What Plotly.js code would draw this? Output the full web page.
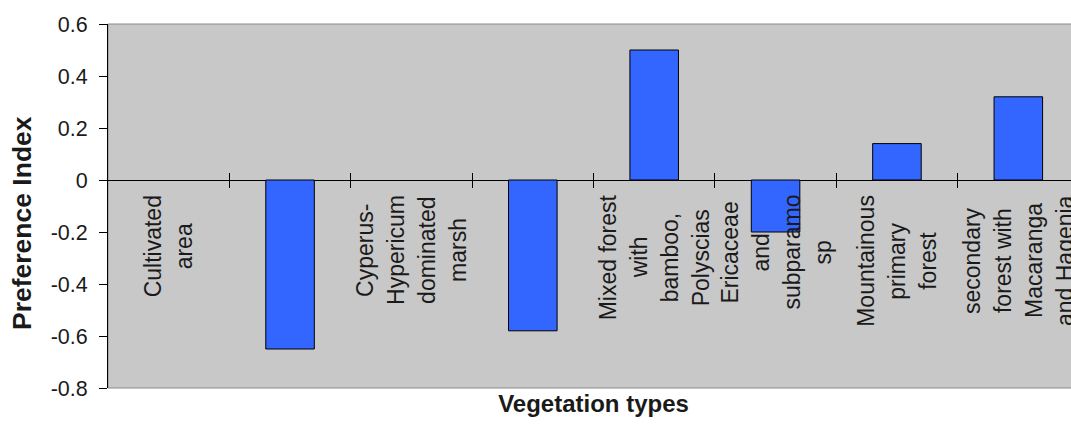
<!DOCTYPE html>
<html><head><meta charset="utf-8">
<script src="https://cdn.plot.ly/plotly-3.0.1.min.js"></script>
<style>html,body{margin:0;padding:0;overflow:hidden;background:#fff}#chart{width:1085px;height:441px}</style>
</head><body><div id="chart"></div>
<script>
// ---- data ----
const categories = [
  "Cultivated\narea",
  "",
  "Cyperus-\nHypericum\ndominated\nmarsh",
  "",
  "Mixed forest\nwith\nbamboo,\nPolyscias",
  "Ericaceae\nand\nsubparamo\nsp",
  "Mountainous\nprimary\nforest",
  "secondary\nforest with\nMacaranga\nand Hagenia"
];
const preferenceIndex = [null, -0.65, null, -0.58, 0.5, -0.2, 0.14, 0.32];
const yTickValues = [-0.8, -0.6, -0.4, -0.2, 0, 0.2, 0.4, 0.6];
const yTickLabels = ["-0.8", "-0.6", "-0.4", "-0.2", "0", "0.2", "0.4", "0.6"];
const xTitle = "Vegetation types";
const yTitle = "Preference Index";

// ---- layout helpers ----
const FONT = '"Liberation Sans", Arial, sans-serif';
const LABEL_SIZE = 23, LINE_SP = 31, GAP = 15;
const idx = categories.map((_, i) => i);
const boundaries = idx.slice(1).map(i => i - 0.5);
const xRange = [-0.5, categories.length - 0.5];
const yRange = [yTickValues[0], yTickValues[yTickValues.length - 1]];
const zeroFrac = (0 - yRange[0]) / (yRange[1] - yRange[0]);

const ctx = document.createElement('canvas').getContext('2d');
ctx.font = LABEL_SIZE + 'px "Liberation Sans", Arial, sans-serif';

const annotations = [];
categories.forEach((label, i) => {
  const lines = label.split('\n').filter(s => s.length);
  if (!lines.length) return;
  const maxW = Math.max(...lines.map(l => ctx.measureText(l).width));
  lines.forEach((line, j) => {
    annotations.push({
      xref: 'x', yref: 'y', x: i, y: 0, text: line, showarrow: false,
      textangle: -90, xanchor: 'center', yanchor: 'middle',
      xshift: (j - (lines.length - 1) / 2) * LINE_SP,
      yshift: -(GAP + maxW / 2),
      font: {family: FONT, size: LABEL_SIZE, color: '#1a1a1a'}
    });
  });
});
// y-axis title (placed like the reference, slightly below the axis middle)
annotations.push({
  xref: 'paper', yref: 'paper', x: 0, y: 0.5, xshift: -86, yshift: -17,
  xanchor: 'center', yanchor: 'middle', textangle: -90, showarrow: false,
  text: yTitle, font: {family: FONT, size: 26.5, weight: 'bold', color: '#1a1a1a'}
});

const bars = {
  type: 'bar', x: idx, y: preferenceIndex, xaxis: 'x', yaxis: 'y',
  marker: {color: '#3366FF', line: {color: '#000', width: 1}},
  hoverinfo: 'skip'
};
// empty helpers so the tick-mark axes crossing the zero line get drawn
const tickHelper = ax => ({type: 'scatter', mode: 'markers', x: [], y: [], xaxis: ax, yaxis: 'y', hoverinfo: 'skip'});

const tickAxis = side => ({
  overlaying: 'x', anchor: 'free', position: zeroFrac, side: side,
  range: xRange, tickmode: 'array', tickvals: boundaries,
  ticks: 'outside', ticklen: 7, tickwidth: 1, tickcolor: '#000',
  showticklabels: false, showgrid: false, zeroline: false, showline: false
});

const layout = {
  width: 1085, height: 441,
  margin: {l: 108, r: 6, t: 24, b: 53, pad: 0},
  paper_bgcolor: '#ffffff', plot_bgcolor: '#C8C8C8',
  showlegend: false, bargap: 0.6,
  font: {family: FONT, color: '#1a1a1a'},
  xaxis: {
    range: xRange, showticklabels: false, ticks: '', showgrid: false,
    zeroline: false, showline: false,
    title: {text: xTitle, font: {family: FONT, size: 24, weight: 'bold', color: '#1a1a1a'}, standoff: 7}
  },
  xaxis2: tickAxis('bottom'),
  xaxis3: tickAxis('top'),
  yaxis: {
    range: yRange, tickmode: 'array', tickvals: yTickValues, ticktext: yTickLabels,
    ticks: 'outside', ticklen: 8, tickwidth: 1, tickcolor: '#000',
    showline: true, linecolor: '#000', linewidth: 1,
    showgrid: false, zeroline: true, zerolinecolor: '#000', zerolinewidth: 1,
    tickfont: {family: FONT, size: 21.5, color: '#1a1a1a'}, ticklabelstandoff: 7
  },
  shapes: [{type: 'rect', xref: 'paper', yref: 'paper', x0: 0, x1: 1, y0: 0, y1: 1,
            line: {color: '#8a8a8a', width: 1}, fillcolor: 'rgba(0,0,0,0)', layer: 'below'}],
  annotations: annotations
};

Plotly.newPlot('chart', [bars, tickHelper('x2'), tickHelper('x3')], layout, {displayModeBar: false, staticPlot: true});
</script>
</body></html>
